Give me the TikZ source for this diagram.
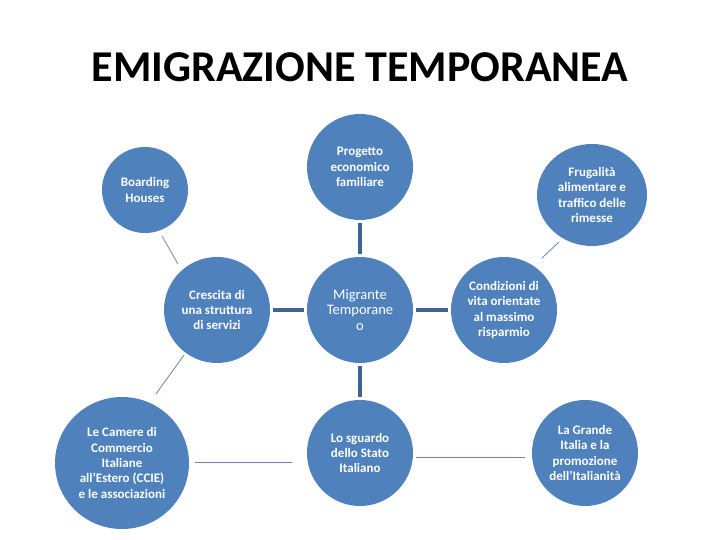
\documentclass[tikz,border=0pt]{standalone}
\usepackage{fontspec}
\setmainfont{Carlito}
\usetikzlibrary{shapes.geometric,calc}
\definecolor{nodeblue}{HTML}{4F81BD}
\definecolor{hubline}{HTML}{3F6494}
\definecolor{thinline}{HTML}{6B86A8}
\begin{document}
\begin{tikzpicture}[x=1pt,y=-1pt,
  bubble/.style={ellipse, fill=nodeblue, text=white, inner sep=-20pt, align=center,
    minimum width=106pt, minimum height=106pt,
    font=\fontsize{13}{15.3}\selectfont\bfseries},
  hub/.style={draw=hubline, line width=4pt, shorten >=3pt, shorten <=3pt},
  link/.style={draw=thinline, line width=0.8pt}]
\useasboundingbox[fill=white] (0,0) rectangle (720,540);
\node[font=\fontsize{44}{50}\selectfont\bfseries, anchor=base] (title) at (360,82) {EMIGRAZIONE TEMPORANEA};

\node[bubble, minimum width=86pt, minimum height=86pt] (boarding) at (145,190) {Boarding\\Houses};
\node[bubble] (progetto) at (360,167) {Progetto\\economico\\familiare};
\node[bubble, minimum width=110pt, minimum height=102pt] (frugalita) at (592,195) {Frugalità\\alimentare e\\traffico delle\\rimesse};
\node[bubble] (crescita) at (217,310) {Crescita di\\una struttura\\di servizi};
\node[bubble, font=\fontsize{14.5}{15.5}\selectfont] (migrante) at (360,310) {Migrante\\Temporane\\o};
\node[bubble] (condizioni) at (504,310) {Condizioni di\\vita orientate\\al massimo\\risparmio};
\node[bubble, minimum width=134pt, minimum height=132pt] (camere) at (122,463) {Le Camere di\\Commercio\\Italiane\\all’Estero (CCIE)\\e le associazioni};
\node[bubble] (sguardo) at (360,453) {Lo sguardo\\dello Stato\\Italiano};
\node[bubble] (grande) at (585,453) {La Grande\\Italia e la\\promozione\\dell’Italianità};

\draw[hub] (progetto.south) -- (migrante.north);
\draw[hub] (crescita.east) -- (migrante.west);
\draw[hub] (migrante.east) -- (condizioni.west);
\draw[hub] (migrante.south) -- (sguardo.north);

\draw[link] ($(boarding)+(17,46)$) -- ($(crescita)+(-39,-46)$);
\draw[link] ($(crescita)+(-33,45)$) -- ($(camere)+(34,-69)$);
\draw[link] ($(condizioni)+(38,-52)$) -- ($(frugalita)+(-33,47)$);
\draw[link] ($(camere)+(73,-1)$) -- ($(sguardo)+(-68,9)$);
\draw[link] ($(sguardo)+(56,4)$) -- ($(grande)+(-60,4)$);
\end{tikzpicture}
\end{document}
